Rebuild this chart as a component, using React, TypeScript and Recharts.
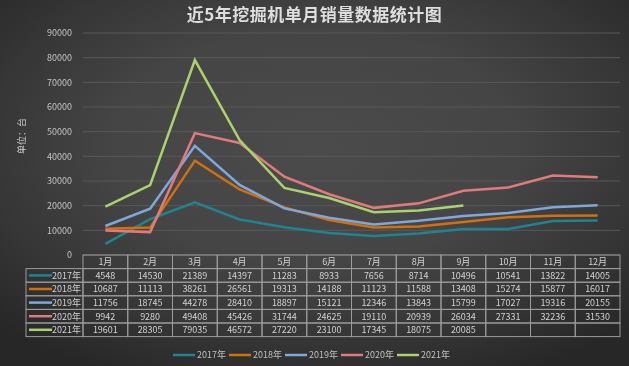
import React from 'react';
import { LineChart, Line, XAxis, YAxis, CartesianGrid, Legend } from 'recharts';

const months = ['1月', '2月', '3月', '4月', '5月', '6月', '7月', '8月', '9月', '10月', '11月', '12月'];
const s2017 = [4548, 14530, 21389, 14397, 11283, 8933, 7656, 8714, 10496, 10541, 13822, 14005];
const s2018 = [10687, 11113, 38261, 26561, 19313, 14188, 11123, 11588, 13408, 15274, 15877, 16017];
const s2019 = [11756, 18745, 44278, 28410, 18897, 15121, 12346, 13843, 15799, 17027, 19316, 20155];
const s2020 = [9942, 9280, 49408, 45426, 31744, 24625, 19110, 20939, 26034, 27331, 32236, 31530];
const s2021: (number | null)[] = [19601, 28305, 79035, 46572, 27220, 23100, 17345, 18075, 20085, null, null, null];
const yTicks = [0, 10000, 20000, 30000, 40000, 50000, 60000, 70000, 80000, 90000];

const seriesNames = ['2017年', '2018年', '2019年', '2020年', '2021年'];
const seriesValues = [s2017, s2018, s2019, s2020, s2021];
const seriesColors = ['#1f8491', '#d2700c', '#7ea8dc', '#e07b7b', '#aad26e'];

const data = months.map((m, i) => {
  const row: Record<string, any> = { month: m };
  seriesNames.forEach((n, k) => {
    row[n] = seriesValues[k][i];
  });
  return row;
});

const W = 629;
const H = 366;
const PLOT_LEFT = 83;
const PLOT_RIGHT = 620;
const PLOT_TOP = 33;
const PLOT_BOTTOM = 255;
const COL_W = (PLOT_RIGHT - PLOT_LEFT) / 12;
const ROW_H = 13.6;
const LEG_LEFT = 26;
const FONT = '"Noto Sans CJK SC", "Liberation Sans", sans-serif';
const BORDER = '#9c9c9c';
const TXT = '#d2d2d2';
const FS = 9;

const TableTick = (props: any) => {
  const { x, payload, index } = props;
  const top = PLOT_BOTTOM;
  const left = x - COL_W / 2;
  const i = payload && typeof payload.index === 'number' ? payload.index : index;
  const cells: React.ReactNode[] = [];
  cells.push(
    <rect key="h" x={left} y={top} width={COL_W} height={ROW_H} fill="none" stroke={BORDER} strokeWidth={1} />
  );
  cells.push(
    <text key="ht" x={x} y={top + ROW_H / 2 + 3.3} textAnchor="middle" fontSize={FS} fill={TXT} fontFamily={FONT}>
      {payload.value}
    </text>
  );
  seriesValues.forEach((vals, k) => {
    const ry = top + ROW_H * (k + 1);
    const v = vals[i];
    cells.push(
      <rect key={'r' + k} x={left} y={ry} width={COL_W} height={ROW_H} fill="none" stroke={BORDER} strokeWidth={1} />
    );
    if (v !== null && v !== undefined) {
      cells.push(
        <text key={'t' + k} x={x} y={ry + ROW_H / 2 + 3.3} textAnchor="middle" fontSize={FS} fill={TXT} fontFamily={FONT}>
          {v}
        </text>
      );
    }
    if (i === 0) {
      cells.push(
        <rect key={'lr' + k} x={LEG_LEFT} y={ry} width={left - LEG_LEFT} height={ROW_H} fill="none" stroke={BORDER} strokeWidth={1} />
      );
      cells.push(
        <line key={'ll' + k} x1={LEG_LEFT + 3} x2={LEG_LEFT + 26} y1={ry + ROW_H / 2} y2={ry + ROW_H / 2} stroke={seriesColors[k]} strokeWidth={2.5} />
      );
      cells.push(
        <text key={'lt' + k} x={left - 2} y={ry + ROW_H / 2 + 3.3} textAnchor="end" fontSize={FS} fill={TXT} fontFamily={FONT}>
          {seriesNames[k]}
        </text>
      );
    }
  });
  return <g>{cells}</g>;
};

const LegendContent = (props: any) => {
  const items = props.payload || [];
  return (
    <div style={{ display: 'flex', justifyContent: 'center', alignItems: 'center', gap: 3, paddingTop: 4 }}>
      {items.map((it: any) => (
        <div key={it.value} style={{ display: 'flex', alignItems: 'center' }}>
          <svg width={22} height={6} style={{ marginRight: 2 }}>
            <line x1={0} x2={22} y1={3} y2={3} stroke={it.color} strokeWidth={2.5} />
          </svg>
          <span style={{ color: '#c0c0c0', fontSize: 9, fontFamily: FONT }}>{it.value}</span>
        </div>
      ))}
    </div>
  );
};

export default function App() {
  return (
    <div
      style={{
        position: 'fixed',
        left: 0,
        top: 0,
        width: W,
        height: H,
        background: 'radial-gradient(ellipse 70% 70% at 50% 40%, #4b4b4b 0%, #454545 45%, #363636 75%, #272727 100%)',
        fontFamily: FONT,
      }}
    >
      <div
        style={{
          position: 'absolute',
          top: 1,
          left: 0,
          width: W,
          textAlign: 'center',
          fontSize: 17,
          fontWeight: 600,
          color: '#dedede',
          letterSpacing: 0.5,
        }}
      >
        近5年挖掘机单月销量数据统计图
      </div>
      <div
        style={{
          position: 'absolute',
          left: 21,
          top: 136,
          transform: 'translate(-50%, -50%) rotate(-90deg)',
          fontSize: 9,
          color: '#c8c8c8',
          whiteSpace: 'nowrap',
        }}
      >
        单位：台
      </div>
      <LineChart
        width={W}
        height={H}
        data={data}
        margin={{ top: PLOT_TOP, right: W - PLOT_RIGHT, left: 0, bottom: 0 }}
        style={{ position: 'absolute', left: 0, top: 0 }}
      >
        <CartesianGrid vertical={false} stroke="#585858" strokeWidth={1} />
        <XAxis
          dataKey="month"
          padding={{ left: COL_W / 2, right: COL_W / 2 }}
          tickLine={false}
          axisLine={false}
          tickSize={0}
          tickMargin={0}
          height={H - PLOT_BOTTOM - 22}
          interval={0}
          tick={<TableTick />}
        />
        <YAxis
          domain={[0, 90000]}
          ticks={yTicks}
          width={PLOT_LEFT}
          tickLine={false}
          axisLine={false}
          tick={{ fontSize: 9, fill: '#c4c4c4', fontFamily: FONT }}
          tickMargin={5}
        />
        <Legend
          verticalAlign="bottom"
          height={22}
          content={<LegendContent />}
          wrapperStyle={{ left: 0, width: W - 6 }}
        />
        {seriesNames.map((n, k) => (
          <Line
            key={n}
            type="linear"
            dataKey={n}
            stroke={seriesColors[k]}
            strokeWidth={2.5}
            dot={false}
            activeDot={false}
            isAnimationActive={false}
          />
        ))}
      </LineChart>
    </div>
  );
}
